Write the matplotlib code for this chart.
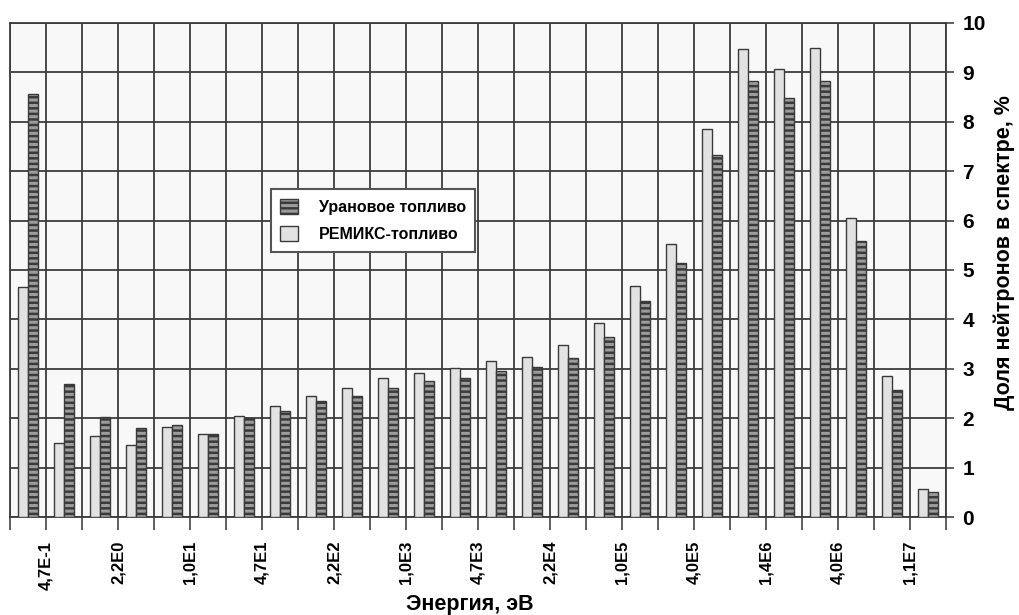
import matplotlib.pyplot as plt
import numpy as np

# доли нейтронов по энергетическим группам, %
remix = [4.65, 1.50, 1.65, 1.47, 1.82, 1.68, 2.05, 2.25, 2.45, 2.62, 2.82, 2.92, 3.02,
         3.15, 3.25, 3.48, 3.92, 4.68, 5.52, 7.85, 9.46, 9.07, 9.48, 6.05, 2.86, 0.58]
uran = [8.55, 2.70, 2.02, 1.80, 1.87, 1.68, 2.00, 2.15, 2.35, 2.45, 2.62, 2.75, 2.82,
        2.95, 3.03, 3.22, 3.65, 4.38, 5.15, 7.32, 8.82, 8.47, 8.82, 5.58, 2.57, 0.51]
energy_labels = ["4,7E-1", "2,2E0", "1,0E1", "4,7E1", "2,2E2", "1,0E3", "4,7E3",
                 "2,2E4", "1,0E5", "4,0E5", "1,4E6", "4,0E6", "1,1E7"]

plt.rcParams['font.family'] = ['Liberation Sans', 'DejaVu Sans']
plt.rcParams['hatch.linewidth'] = 1.8

fig = plt.figure(figsize=(10.2, 6.15), dpi=100)
ax = fig.add_axes([0.0098, 0.159, 0.9176, 0.804])
ax.set_facecolor('#f8f8f8')

n = len(remix)
x = np.arange(n)
w = 0.28
ax.bar(x + 0.5 - w / 2, remix, w, color='#e2e2e2', edgecolor='#3a3a3a', linewidth=1.0,
       zorder=3, label='РЕМИКС-топливо')
ax.bar(x + 0.5 + w / 2, uran, w, color='#9c9c9c', edgecolor='#3a3a3a', linewidth=1.0,
       hatch='---', zorder=3, label='Урановое топливо')

# подписи энергий стоят на каждой второй границе групп
tick_text = [''] * (n + 1)
tick_text[1::2] = energy_labels
ax.set_xlim(0, n)
ax.set_ylim(0, 10)
ax.set_xticks(np.arange(n + 1))
ax.set_xticklabels(tick_text, rotation=90, fontsize=12, fontweight='bold', va='top')
ax.tick_params(axis='x', length=9, width=1.2, color='#444444', pad=8)
ax.yaxis.tick_right()
ax.set_yticks(np.arange(0, 11, 1))
ax.tick_params(axis='y', length=6, width=1.2, color='#444444', labelsize=15, pad=6)
for t in ax.get_yticklabels():
    t.set_fontweight('bold')

ax.grid(True, axis='both', color='#3c3c3c', linewidth=1.3, zorder=1)
ax.set_axisbelow(True)
for s in ax.spines.values():
    s.set_color('#3c3c3c')
    s.set_linewidth(1.3)

fig.text(0.461, 0.017, 'Энергия, эВ', ha='center', va='center', fontsize=15.5, fontweight='bold')
fig.text(0.985, 0.59, 'Доля нейтронов в спектре, %', ha='center', va='center', rotation=90,
         fontsize=15.5, fontweight='bold')

h, l = ax.get_legend_handles_labels()
leg = ax.legend(h[::-1], l[::-1], loc='upper left', bbox_to_anchor=(0.27, 0.68),
                fancybox=False, framealpha=1, edgecolor='#555555',
                handlelength=1.1, handleheight=1.1, borderpad=0.6, labelspacing=0.7,
                handletextpad=1.3, prop={'weight': 'bold', 'size': 11.5})
leg.get_frame().set_linewidth(1.5)
leg.set_zorder(5)

fig.savefig('out.png', dpi=100, facecolor='white')
